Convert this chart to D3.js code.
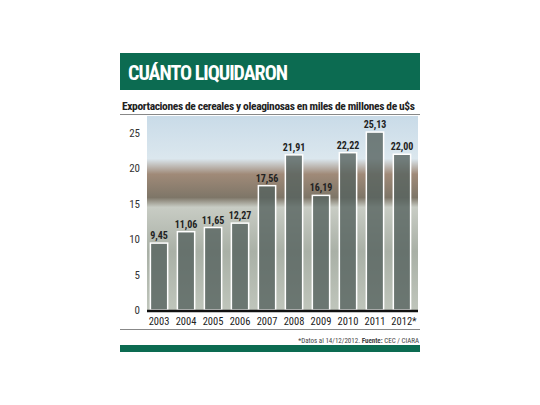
<!DOCTYPE html><html><head><meta charset="utf-8"><script src="https://cdn.jsdelivr.net/npm/d3@7"></script>
<style>body{margin:0;background:#fff}</style></head><body><svg id="c" width="540" height="405"></svg>
<script>
const years=["2003","2004","2005","2006","2007","2008","2009","2010","2011","2012*"];
const values=[9.45,11.06,11.65,12.27,17.56,21.91,16.19,22.22,25.13,22.00];
const labels=["9,45","11,06","11,65","12,27","17,56","21,91","16,19","22,22","25,13","22,00"];
const yTicks=[0,5,10,15,20,25];
const svg=d3.select("#c"),F="'Roboto Condensed','Liberation Sans Narrow',Roboto,sans-serif";
svg.append("rect").attr("x",120).attr("y",53).attr("width",300).attr("height",37).attr("fill","#0c6b51");
svg.append("text").attr("x",128).attr("y",80).attr("fill","#fff").attr("font-family",F).attr("font-weight",700).attr("font-size",20).attr("textLength",160).text("CUÁNTO LIQUIDARON");
svg.append("text").attr("x",122).attr("y",110).attr("font-family",F).attr("font-weight",700).attr("font-size",11.5).attr("fill","#222").attr("textLength",293).text("Exportaciones de cereales y oleaginosas en miles de millones de u$s");
svg.append("line").attr("x1",120).attr("x2",420).attr("y1",114.5).attr("y2",114.5).attr("stroke","#888");
const defs=svg.append("defs");
const g=defs.append("linearGradient").attr("id","bg").attr("x1",0).attr("x2",0).attr("y1",0).attr("y2",1);
[[0,"#c9dbe8"],[0.22,"#dbe7ee"],[0.3,"#a08a78"],[0.42,"#7e7668"],[0.47,"#c8ccc4"],[0.7,"#a9b0a6"],[1,"#bfc5bb"]].forEach(([o,c])=>g.append("stop").attr("offset",o).attr("stop-color",c));
const y=d3.scaleLinear().domain([0,25]).range([310,133]);
const x=d3.scaleBand().domain(years).range([145,416]).paddingInner(0.36).paddingOuter(0.2);
svg.append("rect").attr("x",147).attr("y",116).attr("width",271).attr("height",194).attr("fill","url(#bg)");
svg.selectAll(".b").data(values).join("rect").attr("x",(d,i)=>x(years[i])).attr("y",d=>y(d)).attr("width",x.bandwidth()).attr("height",d=>y(0)-y(d)).attr("fill","#56635f").attr("fill-opacity",0.8).attr("stroke","#fff").attr("stroke-width",1.5);
svg.selectAll(".l").data(values).join("text").attr("x",(d,i)=>x(years[i])+x.bandwidth()/2).attr("y",d=>y(d)-4).attr("text-anchor","middle").attr("font-family",F).attr("font-weight",700).attr("font-size",10).attr("fill","#222").text((d,i)=>labels[i]);
svg.append("line").attr("x1",147).attr("x2",418).attr("y1",311).attr("y2",311).attr("stroke","#111").attr("stroke-width",2.5);
svg.selectAll(".yt").data(yTicks).join("text").attr("x",140).attr("y",d=>y(d)+4).attr("text-anchor","end").attr("font-family",F).attr("font-size",11).attr("fill","#333").text(d=>d);
svg.selectAll(".xt").data(years).join("text").attr("x",d=>x(d)+x.bandwidth()/2+(d.endsWith("*")?2:0)).attr("y",325).attr("text-anchor","middle").attr("font-family",F).attr("font-size",10.5).attr("fill","#222").text(d=>d);
svg.append("line").attr("x1",120).attr("x2",420).attr("y1",329.5).attr("y2",329.5).attr("stroke","#888");
const ft=svg.append("text").attr("x",419).attr("y",343).attr("text-anchor","end").attr("font-family",F).attr("font-size",7).attr("fill","#444");
ft.append("tspan").text("*Datos al 14/12/2012. ");ft.append("tspan").attr("font-weight",700).text("Fuente:");ft.append("tspan").text(" CEC / CIARA");
svg.append("rect").attr("x",120).attr("y",345).attr("width",300).attr("height",7).attr("fill","#0c6b51");
</script></body></html>
